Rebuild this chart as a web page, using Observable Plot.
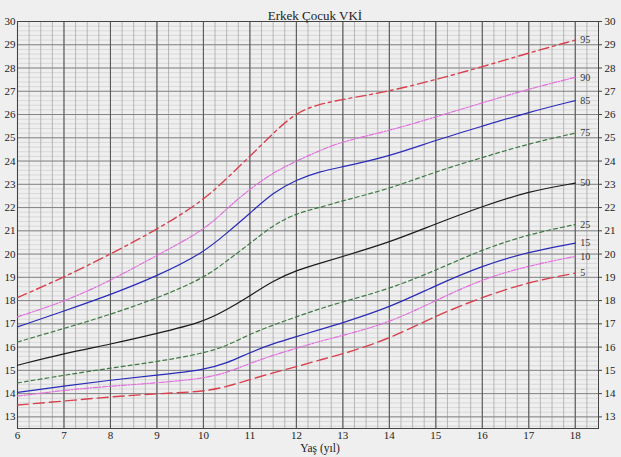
<!DOCTYPE html>
<html>
<head>
<meta charset="utf-8">
<script src="https://cdn.jsdelivr.net/npm/d3@7"></script>
<script src="https://cdn.jsdelivr.net/npm/@observablehq/plot@0.6"></script>
<style>
  html, body { margin: 0; padding: 0; background: #efefef; }
</style>
</head>
<body>
<div id="chart"></div>
<script>
// ---- Data ----
const title = "Erkek Çocuk VKİ";
const xLabel = "Yaş (yıl)";
const ages = [6, 7, 8, 9, 10, 10.5, 11, 11.5, 12, 12.5, 13, 14, 15, 16, 17, 18];
const p95 = [18.13, 19.0, 20.0, 21.05, 22.3, 23.25, 24.2, 25.2, 26.1, 26.45, 26.65, 27.0, 27.5, 28.05, 28.65, 29.2];
const p90 = [17.3, 17.95, 18.85, 19.95, 21.0, 21.95, 22.8, 23.5, 24.0, 24.45, 24.85, 25.3, 25.9, 26.5, 27.1, 27.6];
const p85 = [16.87, 17.55, 18.25, 19.05, 20.05, 20.9, 21.75, 22.65, 23.2, 23.55, 23.75, 24.2, 24.9, 25.5, 26.1, 26.6];
const p75 = [16.22, 16.8, 17.4, 18.1, 18.95, 19.7, 20.45, 21.25, 21.75, 22.0, 22.3, 22.8, 23.55, 24.15, 24.75, 25.2];
const p50 = [15.22, 15.73, 16.12, 16.58, 17.08, 17.6, 18.2, 18.85, 19.3, 19.6, 19.9, 20.5, 21.3, 22.05, 22.7, 23.05];
const p25 = [14.46, 14.79, 15.1, 15.37, 15.73, 16.05, 16.56, 16.95, 17.3, 17.65, 17.95, 18.5, 19.3, 20.2, 20.85, 21.27];
const p15 = [14.05, 14.33, 14.58, 14.8, 15.01, 15.3, 15.77, 16.15, 16.45, 16.75, 17.05, 17.7, 18.65, 19.5, 20.1, 20.47];
const p10 = [13.89, 14.15, 14.32, 14.46, 14.65, 14.9, 15.3, 15.65, 15.95, 16.25, 16.5, 17.05, 18.0, 18.93, 19.5, 19.9];
const p5  = [13.51, 13.68, 13.86, 14.0, 14.08, 14.3, 14.6, 14.9, 15.15, 15.45, 15.7, 16.35, 17.35, 18.15, 18.8, 19.18];

const seriesNames = ["95", "90", "85", "75", "50", "25", "15", "10", "5"];
const seriesValues = [p95, p90, p85, p75, p50, p25, p15, p10, p5];
const xTicks = [6, 7, 8, 9, 10, 11, 12, 13, 14, 15, 16, 17, 18];
const yTicks = [13, 14, 15, 16, 17, 18, 19, 20, 21, 22, 23, 24, 25, 26, 27, 28, 29, 30];

// ---- Styles ----
const styles = {
  "95": {stroke: "#d8404e", dash: "10,4,3,4", w: 1.4},
  "90": {stroke: "#e070dc", dash: "5,1.5,1.5,1.5", w: 1.2},
  "85": {stroke: "#2a2ab8", dash: null, w: 1.2},
  "75": {stroke: "#3f7a45", dash: "4,3", w: 1.2},
  "50": {stroke: "#1a1a1a", dash: null, w: 1.2},
  "25": {stroke: "#3f7a45", dash: "4,3", w: 1.2},
  "15": {stroke: "#2a2ab8", dash: null, w: 1.2},
  "10": {stroke: "#e070dc", dash: "5,1.5,1.5,1.5", w: 1.2},
  "5":  {stroke: "#d8404e", dash: "11,5", w: 1.4}
};

const minorX = d3.range(6, 18.5001, 0.25);
const minorY = d3.range(12.6, 30.0001, 0.2).map(v => +v.toFixed(2));

const lineMarks = seriesNames.map((name, i) => {
  const rows = ages.map((a, j) => ({age: a, v: seriesValues[i][j]}));
  const s = styles[name];
  return Plot.line(rows, {
    x: "age", y: "v", curve: "basis",
    stroke: s.stroke, strokeWidth: s.w,
    strokeDasharray: s.dash ?? undefined
  });
});

const endLabels = seriesNames.map((name, i) => ({
  name, age: ages[ages.length - 1], v: seriesValues[i][ages.length - 1]
}));

const chart = Plot.plot({
  width: 621,
  height: 457,
  marginLeft: 17,
  marginRight: 23,
  marginTop: 21,
  marginBottom: 29,
  style: {
    background: "#efefef",
    fontFamily: "'Liberation Serif', 'Times New Roman', serif",
    fontSize: "11px",
    color: "#222"
  },
  x: {domain: [6, 18.5]},
  y: {domain: [12.5, 30]},
  marks: [
    Plot.ruleY(minorY, {stroke: "#cfcfcf", strokeWidth: 0.7}),
    Plot.ruleX(minorX, {stroke: "#a8a8a8", strokeWidth: 0.8}),
    Plot.ruleY(yTicks, {stroke: "#858585", strokeWidth: 1}),
    Plot.ruleX(xTicks, {stroke: "#5a5a5a", strokeWidth: 1.1}),
    Plot.frame({stroke: "#444", strokeWidth: 1}),
    Plot.axisX({ticks: xTicks, tickSize: 0, tickPadding: 3, tickFormat: d => d, label: null}),
    Plot.axisY({anchor: "left", ticks: yTicks, tickSize: 0, tickPadding: 2, tickFormat: d => d, label: null}),
    Plot.axisY({anchor: "right", ticks: yTicks, tickSize: 3, tickPadding: 3, tickFormat: d => d, label: null, stroke: "#444"}),
    ...lineMarks,
    Plot.text(endLabels, {x: "age", y: "v", text: "name", dx: 5, textAnchor: "start", fontSize: 10, fill: "#333"}),
    Plot.text([title], {frameAnchor: "top", dx: 7, dy: -11, fontSize: 13, fill: "#222"}),
    Plot.text([xLabel], {frameAnchor: "bottom", dx: 12, dy: 23.5, fontSize: 11.5, fill: "#222"})
  ]
});

document.getElementById("chart").appendChild(chart);
</script>
</body>
</html>
